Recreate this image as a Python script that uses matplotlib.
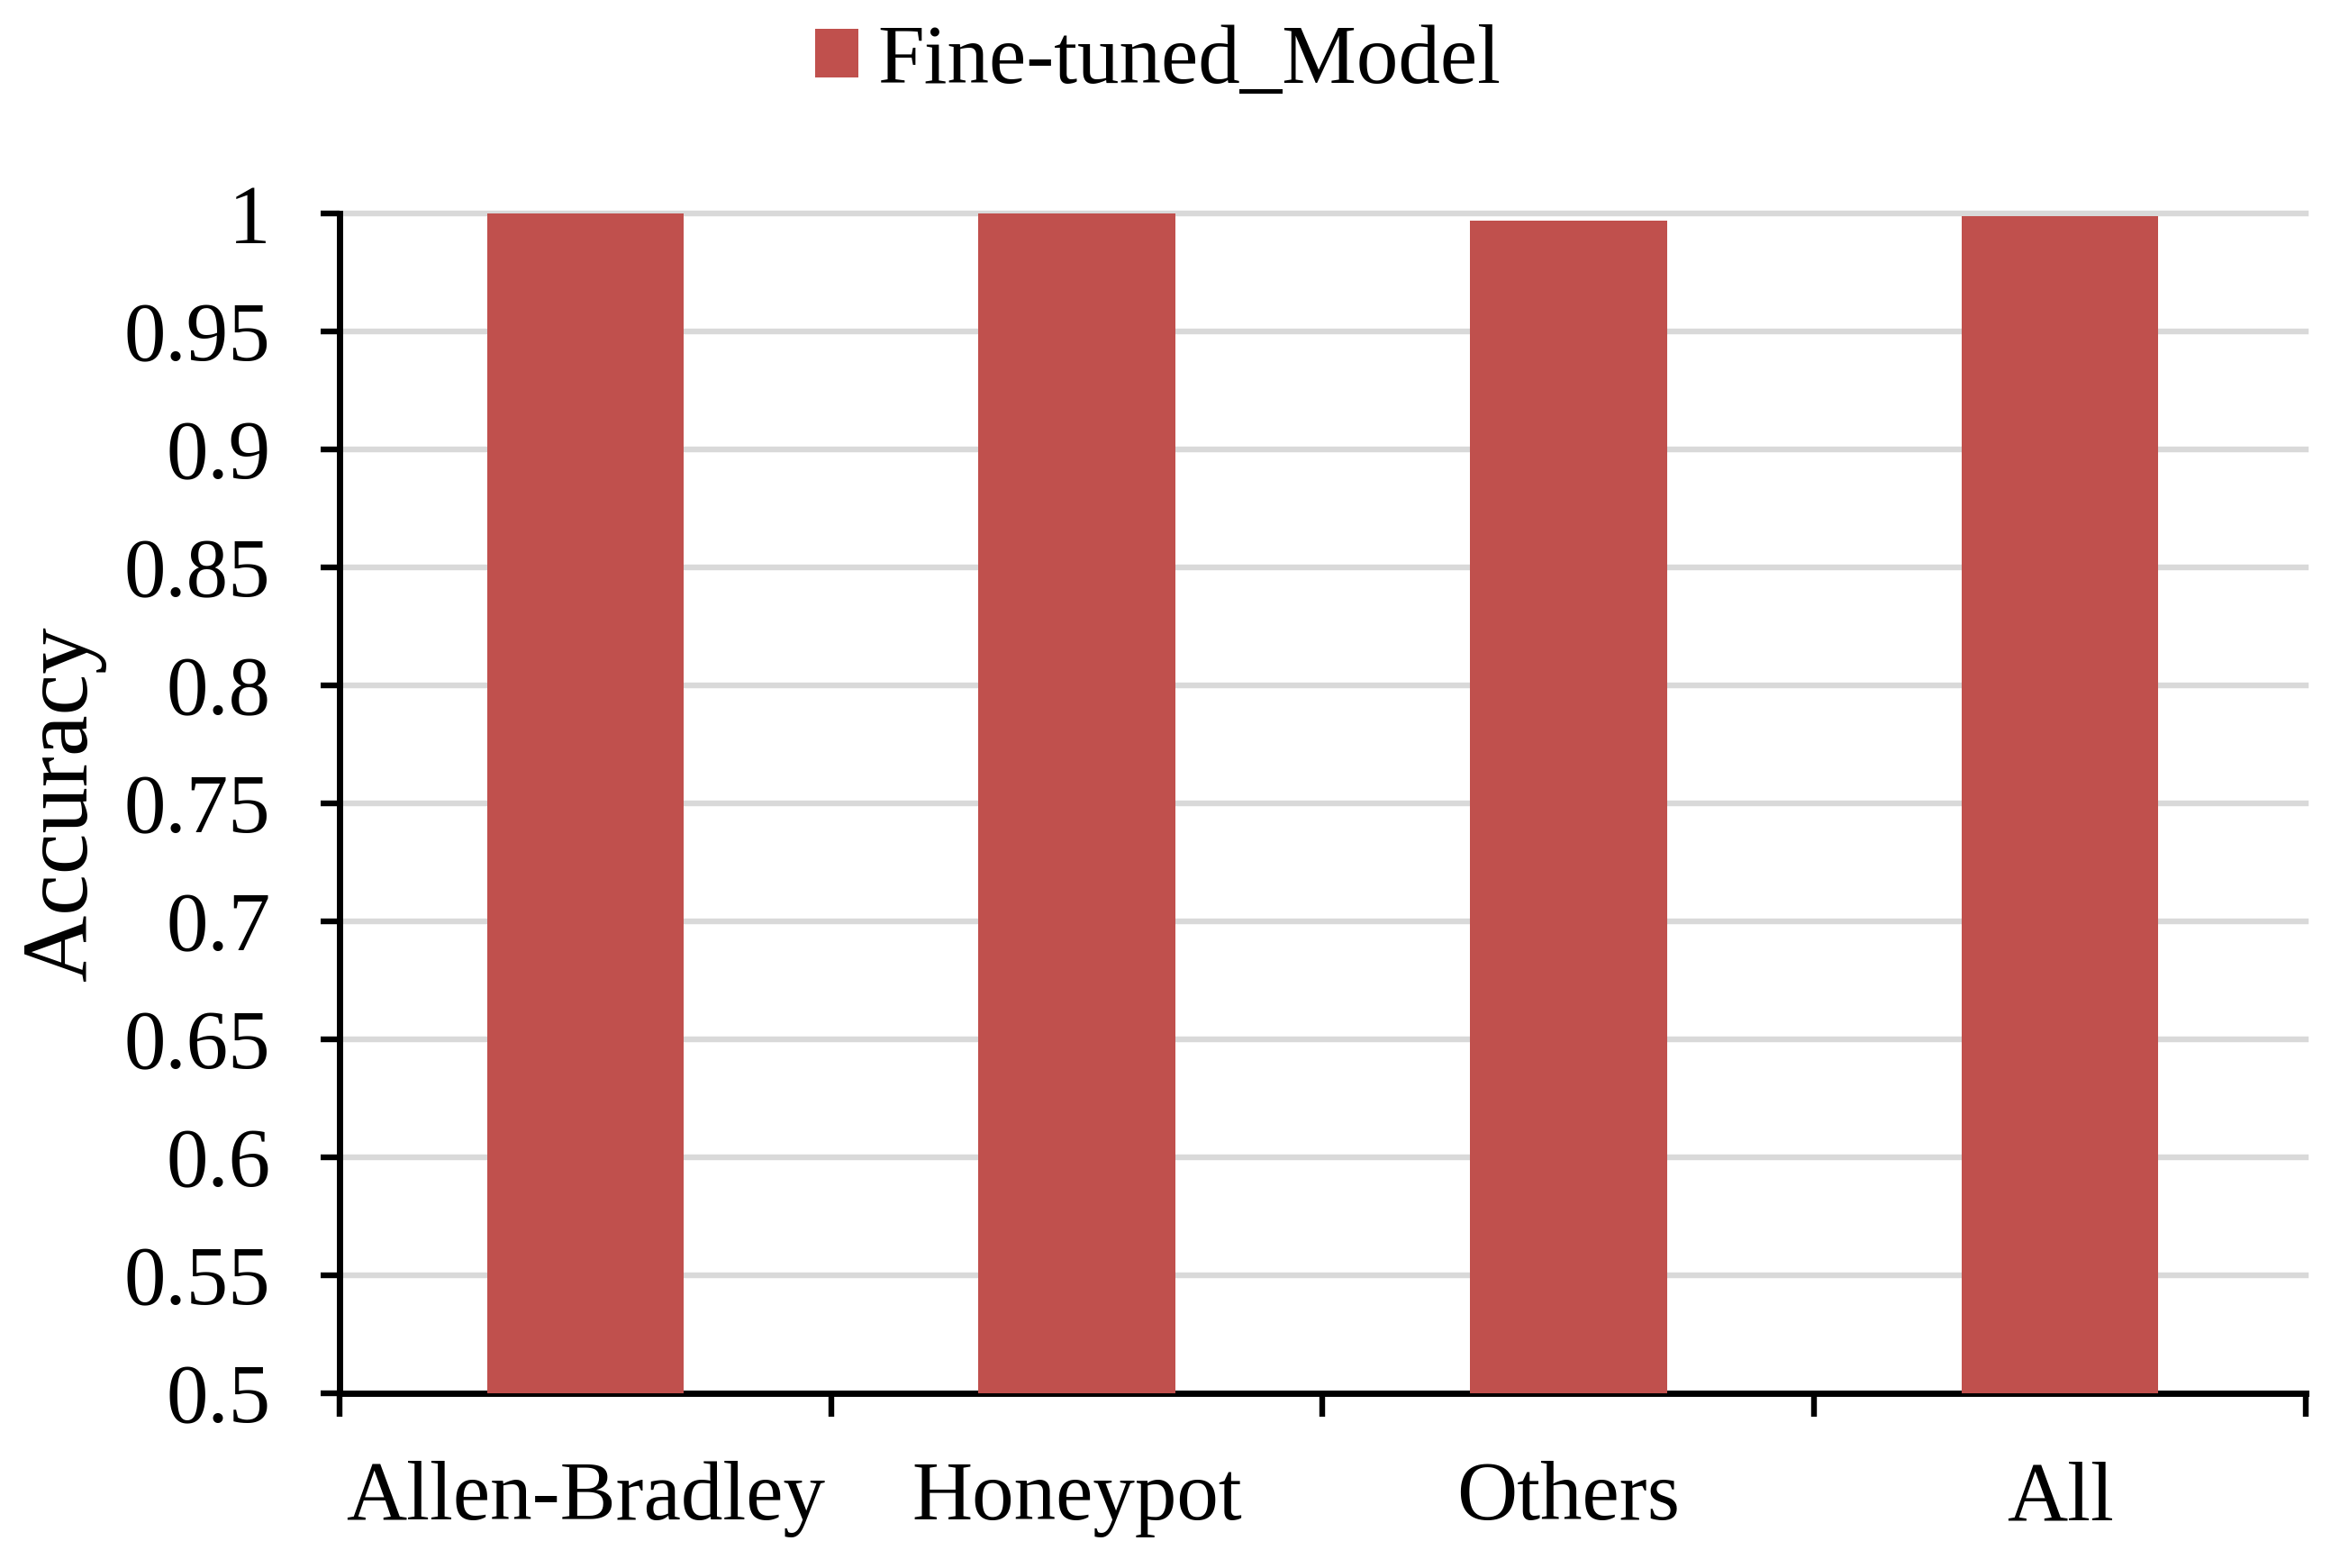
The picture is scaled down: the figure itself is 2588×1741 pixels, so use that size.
import matplotlib

matplotlib.use("Agg")
import matplotlib.pyplot as plt
import numpy as np

categories = ["Allen-Bradley", "Honeypot", "Others", "All"]
accuracy = [1.0, 1.0, 0.9968, 0.999]
series_name = "Fine-tuned_Model"
y_ticks = [0.5, 0.55, 0.6, 0.65, 0.7, 0.75, 0.8, 0.85, 0.9, 0.95, 1.0]
y_tick_labels = ["0.5", "0.55", "0.6", "0.65", "0.7", "0.75", "0.8", "0.85", "0.9", "0.95", "1"]

BAR_COLOR = "#C0504D"
GRID_COLOR = "#D9D9D9"
FS = 67

plt.rcParams["font.family"] = ["Liberation Serif", "DejaVu Serif"]

fig = plt.figure(figsize=(25.88, 17.41), dpi=100)
ax = fig.add_axes([377 / 2588, 1 - 1547 / 1741, (2560 - 377) / 2588, (1547 - 237) / 1741])

x = np.arange(len(categories))
ax.bar(x, accuracy, width=0.4, color=BAR_COLOR, label=series_name, zorder=3)

ax.set_xlim(-0.5, len(categories) - 0.5)
ax.set_ylim(0.5, 1.0)

# horizontal gridlines behind bars
ax.set_yticks(y_ticks)
ax.set_yticklabels(y_tick_labels)
ax.yaxis.grid(True, color=GRID_COLOR, linewidth=4.6, zorder=0)
ax.set_axisbelow(True)
for gl in ax.get_ygridlines():
    gl.set_clip_on(False)

# category boundaries get the ticks, labels sit at centres
ax.set_xticks(np.arange(-0.5, len(categories), 1.0))
ax.set_xticklabels([])
ax.set_xticks(x, minor=True)
ax.set_xticklabels(categories, minor=True)
ax.tick_params(axis="x", which="major", direction="out", length=19, width=4.6)
ax.tick_params(axis="x", which="minor", length=0, pad=54, labelsize=FS)
ax.tick_params(axis="y", direction="out", length=15, width=4.6, pad=40, labelsize=FS)

for side in ("top", "right"):
    ax.spines[side].set_visible(False)
for side in ("left", "bottom"):
    ax.spines[side].set_linewidth(5)
    ax.spines[side].set_color("black")

ax.set_ylabel("Accuracy", fontsize=74, labelpad=14)

fig.legend(loc="center", bbox_to_anchor=(0.4967, 0.960), frameon=False,
           fontsize=FS, handlelength=0.52, handleheight=0.52,
           handletextpad=0.23, borderaxespad=0)

fig.savefig("out.png", dpi=100)
plt.close(fig)
